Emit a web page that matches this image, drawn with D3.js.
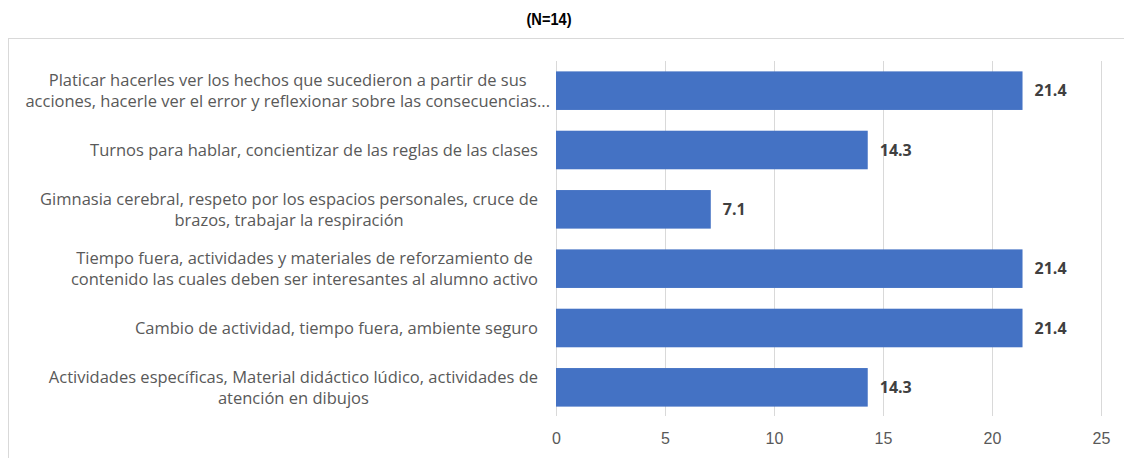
<!DOCTYPE html>
<meta charset="utf-8">
<style>

body {
  margin: 0;
  background: #fff;
}

svg {
  font-family: "Open Sans", sans-serif;
}

.frame {
  fill: none;
  stroke: #d9d9d9;
  shape-rendering: crispEdges;
}

.grid line {
  stroke: #d9d9d9;
  shape-rendering: crispEdges;
}

.grid path {
  display: none;
}

.axis text {
  fill: #595959;
  font-size: 16px;
}

.cat {
  fill: #595959;
  font-size: 16.5px;
}

.bar {
  fill: #4472c4;
}

.value {
  fill: #404040;
  font-size: 16px;
  font-weight: bold;
}

.title {
  font-family: "Liberation Sans", sans-serif;
  font-weight: bold;
  font-size: 17px;
  fill: #000;
}

</style>
<body>
<script src="https://cdn.jsdelivr.net/npm/d3@7"></script>
<script>

var categories = [
  ["Platicar hacerles ver los hechos que sucedieron a partir de sus", "acciones, hacerle ver el error y reflexionar sobre las consecuencias..."],
  ["Turnos para hablar, concientizar de las reglas de las clases"],
  ["Gimnasia cerebral, respeto por los espacios personales, cruce de", "brazos, trabajar la respiración"],
  ["Tiempo fuera, actividades y materiales de reforzamiento de", "contenido las cuales deben ser interesantes al alumno activo"],
  ["Cambio de actividad, tiempo fuera, ambiente seguro"],
  ["Actividades específicas, Material didáctico lúdico, actividades de", "atención en dibujos"]
];

var values = [21.4, 14.3, 7.1, 21.4, 21.4, 14.3];

var xTicks = [0, 5, 10, 15, 20, 25];

var title = "(N=14)";

var width = 1124,
    height = 458;

var x = d3.scaleLinear()
    .domain([0, 25])
    .range([556, 1101]);

var y = d3.scaleBand()
    .domain(d3.range(values.length))
    .range([61, 417])
    .paddingInner(0.35)
    .paddingOuter(0.175);

var svg = d3.select("body").append("svg")
    .attr("width", width)
    .attr("height", height);

svg.append("rect")
    .attr("class", "frame")
    .attr("x", 8.5)
    .attr("y", 38.5)
    .attr("width", 1130)
    .attr("height", 440);

// narrow bold title, squeezed horizontally
svg.append("text")
    .attr("class", "title")
    .attr("transform", "translate(549,25) scale(0.86,1)")
    .attr("text-anchor", "middle")
    .text(title);

// vertical gridlines
svg.append("g")
    .attr("class", "grid")
    .attr("transform", "translate(0,416)")
    .call(d3.axisBottom(x).tickValues(xTicks).tickSize(-355).tickFormat(""));

var xAxis = svg.append("g")
    .attr("class", "axis")
    .attr("transform", "translate(0,426)")
    .call(d3.axisBottom(x).tickValues(xTicks).tickSize(0).tickPadding(7));

xAxis.select(".domain").remove();

svg.selectAll(".bar")
    .data(values)
  .enter().append("rect")
    .attr("class", "bar")
    .attr("x", x(0))
    .attr("y", function(d, i) { return y(i); })
    .attr("width", function(d) { return x(d) - x(0); })
    .attr("height", y.bandwidth());

svg.selectAll(".value")
    .data(values)
  .enter().append("text")
    .attr("class", "value")
    .attr("x", function(d) { return x(d) + 12; })
    .attr("y", function(d, i) { return y(i) + y.bandwidth() / 2; })
    .attr("dy", "0.35em")
    .text(function(d) { return d.toFixed(1); });

// category labels: lines centred on each other, block right-aligned
var labelRight = 538,
    lineHeight = 21;

categories.forEach(function(lines, i) {
  var g = svg.append("g");
  var cy = y(i) + y.bandwidth() / 2;
  var texts = lines.map(function(line, k) {
    return g.append("text")
        .attr("class", "cat")
        .attr("y", cy + (k - (lines.length - 1) / 2) * lineHeight)
        .attr("dy", "0.35em")
        .attr("text-anchor", "middle")
        .text(line);
  });
  var maxW = d3.max(texts, function(t) { return t.node().getComputedTextLength(); });
  // the first label's trailing "..." runs a little past the others
  var right = i === 0 ? labelRight + 12 : labelRight;
  texts.forEach(function(t) { t.attr("x", right - maxW / 2); });
});

</script>
